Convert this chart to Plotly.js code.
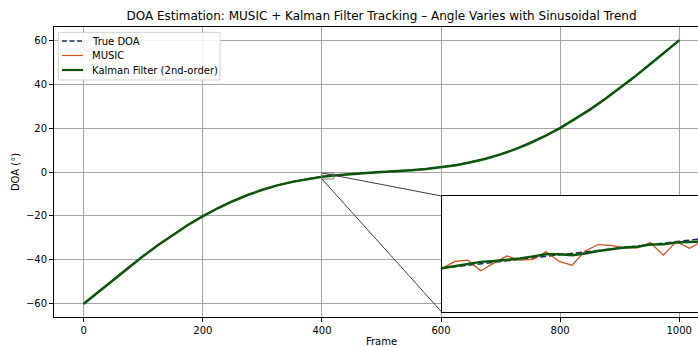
<!DOCTYPE html>
<html><head><meta charset="utf-8">
<script src="https://cdn.plot.ly/plotly-3.0.1.min.js"></script>
<style>html,body{margin:0;padding:0;overflow:hidden;background:#fff;width:698px;height:347px}#chart{width:730px;height:347px}</style>
</head><body><div id="chart"></div><script>
// ---- data ----
const frames = [0,25,50,75,100,125,150,175,200,225,250,275,300,325,350,375,400,425,450,475,500,525,550,575,600,625,650,675,700,725,750,775,800,825,850,875,900,925,950,975,1000];
const trueMain = [-60,-54.38,-48.83,-43.40,-38.16,-33.16,-28.46,-24.08,-20.08,-16.47,-13.26,-10.47,-8.08,-6.08,-4.46,-3.16,-2.16,-1.40,-0.83,-0.38,0.00,0.38,0.83,1.40,2.16,3.16,4.46,6.08,8.08,10.47,13.26,16.47,20.08,24.08,28.46,33.16,38.16,43.40,48.83,54.38,60.00];
const musicMain = [-60.2,-54.1,-49.0,-43.2,-38.4,-33.0,-28.7,-23.9,-20.3,-16.3,-13.5,-10.2,-8.3,-5.9,-4.7,-3.0,-2.17,-1.6,-0.6,-0.5,0.2,0.2,1.0,1.2,2.4,3.0,4.7,5.9,8.3,10.3,13.5,16.3,20.3,23.9,28.7,33.0,38.4,43.2,49.0,54.2,60.2];
const kalmanMain = [-60.0,-54.5,-48.9,-43.4,-38.2,-33.2,-28.5,-24.1,-20.1,-16.5,-13.3,-10.5,-8.1,-6.1,-4.5,-3.2,-2.16,-1.45,-0.85,-0.4,0.0,0.35,0.8,1.4,2.1,3.1,4.4,6.0,8.0,10.4,13.2,16.4,20.0,24.0,28.4,33.1,38.1,43.3,48.8,54.3,59.9];

const zoomFrames = [400,401,402,403,404,405,406,407,408,409,410,411,412,413,414,415,416,417,418,419,420];
const trueZoom = [-2.16,-2.125,-2.09,-2.055,-2.02,-1.985,-1.95,-1.915,-1.88,-1.845,-1.81,-1.775,-1.74,-1.705,-1.67,-1.635,-1.60,-1.565,-1.53,-1.495,-1.46];
const musicZoom = [-2.17,-2.00,-1.97,-2.22,-2.04,-1.87,-1.97,-1.95,-1.77,-2.00,-2.09,-1.75,-1.60,-1.62,-1.68,-1.68,-1.55,-1.85,-1.53,-1.69,-1.52];
const kalmanZoom = [-2.16,-2.11,-2.05,-2.01,-1.99,-1.96,-1.93,-1.88,-1.83,-1.83,-1.85,-1.81,-1.75,-1.71,-1.67,-1.65,-1.60,-1.59,-1.55,-1.54,-1.53];

const xTicks = [0,200,400,600,800,1000];
const yTicks = [-60,-40,-20,0,20,40,60];
const names = ['True DOA','MUSIC','Kalman Filter (2nd-order)'];
const titleText = 'DOA Estimation: MUSIC + Kalman Filter Tracking – Angle Varies with Sinusoidal Trend';

// ---- styles ----
const C_TRUE = '#1c2c5e', C_MUSIC = '#cc4f14', C_KAL = '#0b560b';
const FONT = 'DejaVu Sans, sans-serif';
const xRange = [-50,1050], yRange = [-66,66];
const zoomX = [400,420], zoomY = [-3.2,-0.45];
const insetDomX = [0.592,0.99], insetDomY = [0.017,0.417];
const lineStyles = [
  {color:C_TRUE,width:1.5,dash:'6px,3px'},
  {color:C_MUSIC,width:1.2},
  {color:C_KAL,width:2.5}
];

const traces = [
  {x:frames,y:trueMain,name:names[0],mode:'lines',line:lineStyles[0],xaxis:'x',yaxis:'y',showlegend:false},
  {x:frames,y:musicMain,name:names[1],mode:'lines',line:lineStyles[1],xaxis:'x',yaxis:'y',showlegend:false},
  {x:frames,y:kalmanMain,name:names[2],mode:'lines',line:lineStyles[2],xaxis:'x',yaxis:'y',showlegend:false},
  // white background of the inset axes (spans the inset's own axis ranges)
  {x:[zoomX[0],zoomX[1],zoomX[1],zoomX[0],zoomX[0]],y:[zoomY[0],zoomY[0],zoomY[1],zoomY[1],zoomY[0]],mode:'lines',fill:'toself',fillcolor:'#ffffff',line:{width:0,color:'rgba(0,0,0,0)'},hoverinfo:'skip',showlegend:false,xaxis:'x2',yaxis:'y2'},
  {x:zoomFrames,y:trueZoom,name:names[0],mode:'lines',showlegend:false,line:lineStyles[0],xaxis:'x2',yaxis:'y2'},
  {x:zoomFrames,y:musicZoom,name:names[1],mode:'lines',showlegend:false,line:lineStyles[1],xaxis:'x2',yaxis:'y2'},
  {x:zoomFrames,y:kalmanZoom,name:names[2],mode:'lines',showlegend:false,line:lineStyles[2],xaxis:'x2',yaxis:'y2'}
];

function px(v){return (v-xRange[0])/(xRange[1]-xRange[0]);}
function py(v){return (v-yRange[0])/(yRange[1]-yRange[0]);}

const axCommon = {showline:true,linecolor:'#000',linewidth:1,mirror:true,ticks:'outside',ticklen:4,tickwidth:1,tickcolor:'#000',
  showgrid:true,gridcolor:'#a6a6a6',gridwidth:1,zeroline:false,tickfont:{family:FONT,size:10,color:'#000'}};

// manual legend (pixel offsets from the top-left corner of the plot area)
const legShapes = [
  {type:'rect',xref:'paper',yref:'paper',xsizemode:'pixel',ysizemode:'pixel',xanchor:0,yanchor:1,x0:4.3,x1:166,y0:-53,y1:-5.3,
   fillcolor:'rgba(255,255,255,0.85)',line:{color:'#d0d0d0',width:1},layer:'above'}
];
const legAnn = [];
const legY = [-14,-28.5,-43];
names.forEach((n,i)=>{
  legShapes.push({type:'line',xref:'paper',yref:'paper',xsizemode:'pixel',ysizemode:'pixel',xanchor:0,yanchor:1,
    x0:8,x1:29,y0:legY[i],y1:legY[i],line:Object.assign({},lineStyles[i],i===0?{dash:'5px,2.5px'}:{},i===2?{width:2.2}:{}),layer:'above'});
  legAnn.push({text:n,xref:'paper',yref:'paper',x:0,y:1,xshift:36,yshift:legY[i],xanchor:'left',yanchor:'middle',showarrow:false,
    font:{family:FONT,size:10,color:'#000'}});
});

const layout = {
  width:730,height:347,
  margin:{l:54,r:21,t:27,b:30},
  paper_bgcolor:'#fff',plot_bgcolor:'#fff',
  font:{family:FONT,color:'#000'},
  showlegend:false,
  title:{text:titleText,font:{family:FONT,size:12,color:'#000'},x:0.5,xref:'paper',xanchor:'center',y:1-15.5/347,yref:'container',yanchor:'middle'},
  xaxis:Object.assign({},axCommon,{range:xRange,tickvals:xTicks,domain:[0,1],
    title:{text:'Frame',font:{family:FONT,size:10,color:'#000'},standoff:3}}),
  yaxis:Object.assign({},axCommon,{range:yRange,tickvals:yTicks,domain:[0,1],
    title:{text:'DOA (°)',font:{family:FONT,size:10,color:'#000'},standoff:4}}),
  xaxis2:{domain:insetDomX,range:zoomX,anchor:'y2',showgrid:false,zeroline:false,showticklabels:false,ticks:'',showline:true,mirror:true,linecolor:'#000',linewidth:1},
  yaxis2:{domain:insetDomY,range:zoomY,anchor:'x2',showgrid:false,zeroline:false,showticklabels:false,ticks:'',showline:true,mirror:true,linecolor:'#000',linewidth:1},
  annotations:legAnn,
  shapes:[
    {type:'rect',xref:'x',yref:'y',x0:zoomX[0],x1:zoomX[1],y0:zoomY[0],y1:zoomY[1],line:{color:'#808080',width:1},fillcolor:'rgba(0,0,0,0)',layer:'above'},
    {type:'line',xref:'paper',yref:'paper',x0:px(zoomX[0]),y0:py(zoomY[1]),x1:insetDomX[0],y1:insetDomY[1],line:{color:'#404040',width:1},layer:'above'},
    {type:'line',xref:'paper',yref:'paper',x0:px(zoomX[0]),y0:py(zoomY[0]),x1:insetDomX[0],y1:insetDomY[0],line:{color:'#404040',width:1},layer:'above'}
  ].concat(legShapes)
};
Plotly.newPlot('chart',traces,layout,{staticPlot:true,displayModeBar:false});
</script></body></html>
